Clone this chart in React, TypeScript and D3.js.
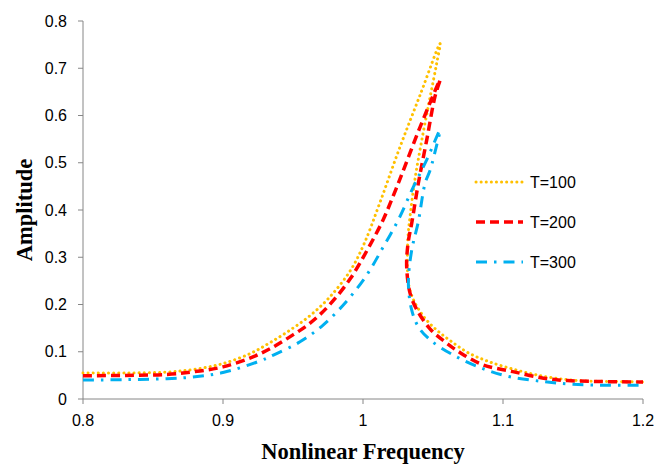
import React from "react";
import * as d3 from "d3";

const xTicks = [0.8, 0.9, 1.0, 1.1, 1.2];
const yTicks = [0, 0.1, 0.2, 0.3, 0.4, 0.5, 0.6, 0.7, 0.8];
const xTickLabels = ["0.8", "0.9", "1", "1.1", "1.2"];
const yTickLabels = ["0", "0.1", "0.2", "0.3", "0.4", "0.5", "0.6", "0.7", "0.8"];

const seriesNames = ["T=100", "T=200", "T=300"];

const freqT100 = [0.8, 0.83, 0.86, 0.88, 0.9, 0.92, 0.934, 0.948, 0.962, 0.976, 0.991, 1.001, 1.012, 1.026, 1.041, 1.055,
  1.0526, 1.048, 1.042, 1.037, 1.0336, 1.0322, 1.0317, 1.0324, 1.036, 1.044, 1.053, 1.063, 1.075, 1.09, 1.11, 1.129, 1.146, 1.16, 1.18, 1.2];
const ampT100 = [0.055, 0.055, 0.057, 0.063, 0.075, 0.097, 0.12, 0.146, 0.176, 0.215, 0.272, 0.33, 0.415, 0.53, 0.645, 0.752,
  0.71, 0.64, 0.548, 0.463, 0.386, 0.345, 0.28, 0.245, 0.21, 0.172, 0.145, 0.122, 0.098, 0.079, 0.061, 0.048, 0.041, 0.038, 0.037, 0.036];

const freqT200 = [0.8, 0.83, 0.86, 0.88, 0.9, 0.9205, 0.934, 0.948, 0.962, 0.976, 0.991, 1.003, 1.0145, 1.0216, 1.027, 1.0407, 1.055,
  1.0514, 1.0455, 1.0395, 1.0348, 1.0322, 1.0312, 1.0336, 1.0383, 1.048, 1.059, 1.07, 1.086, 1.107, 1.129, 1.146, 1.17, 1.2];
const ampT200 = [0.049, 0.05, 0.052, 0.058, 0.068, 0.088, 0.107, 0.132, 0.16, 0.199, 0.255, 0.315, 0.38, 0.43, 0.47, 0.575, 0.675,
  0.64, 0.548, 0.456, 0.372, 0.33, 0.28, 0.224, 0.19, 0.148, 0.12, 0.097, 0.072, 0.058, 0.044, 0.039, 0.037, 0.036];

const freqT300 = [0.8, 0.83, 0.86, 0.88, 0.9, 0.925, 0.936, 0.955, 0.9717, 0.988, 1.0026, 1.0145, 1.0252, 1.036, 1.0455, 1.055,
  1.0526, 1.048, 1.0443, 1.0395, 1.0348, 1.0324, 1.0348, 1.0395, 1.048, 1.0645, 1.085, 1.105, 1.129, 1.15, 1.175, 1.2];
const ampT300 = [0.04, 0.041, 0.043, 0.047, 0.056, 0.079, 0.093, 0.121, 0.157, 0.206, 0.262, 0.322, 0.379, 0.449, 0.506, 0.569,
  0.537, 0.485, 0.456, 0.375, 0.315, 0.245, 0.188, 0.153, 0.125, 0.093, 0.065, 0.047, 0.037, 0.031, 0.029, 0.029];

const W = 656;
const H = 466;

export default function App() {
  const x = d3.scaleLinear().domain([0.8, 1.2]).range([83, 643]);
  const y = d3.scaleLinear().domain([0, 0.8]).range([399, 21]);
  const line = d3
    .line<[number, number]>()
    .x((d) => x(d[0]))
    .y((d) => y(d[1]))
    .curve(d3.curveCatmullRom.alpha(0.5));

  const series = [
    { name: seriesNames[0], f: freqT100, a: ampT100, color: "#FFC000", width: 3, dash: "0.1 5", cap: "round" },
    { name: seriesNames[1], f: freqT200, a: ampT200, color: "#FF0000", width: 3.5, dash: "9 5", cap: "butt" },
    { name: seriesNames[2], f: freqT300, a: ampT300, color: "#00B0F0", width: 3, dash: "11 7 2.5 7", cap: "butt" },
  ];

  const axisColor = "#868686";
  const tickFont = "'Liberation Sans', Arial, sans-serif";
  const titleFont = "'Liberation Serif', 'Times New Roman', serif";
  const legendY = [182, 222, 262];

  return (
    <svg width={W} height={H} style={{ position: "absolute", left: 0, top: 0, background: "#fff" }}>
      <rect x={0} y={0} width={W} height={H} fill="#fff" />
      {/* axes */}
      <line x1={x(0.8)} x2={x(0.8)} y1={y(0.8)} y2={y(0)} stroke={axisColor} strokeWidth={1} />
      <line x1={x(0.8)} x2={x(1.2)} y1={y(0)} y2={y(0)} stroke={axisColor} strokeWidth={1} />
      {yTicks.map((t, i) => (
        <g key={"yt" + i}>
          <line x1={x(0.8) - 5} x2={x(0.8)} y1={y(t)} y2={y(t)} stroke={axisColor} />
          <text x={67} y={y(t) + 5.5} textAnchor="end" fontFamily={tickFont} fontSize={16} fill="#000">
            {yTickLabels[i]}
          </text>
        </g>
      ))}
      {xTicks.map((t, i) => (
        <g key={"xt" + i}>
          <line x1={x(t)} x2={x(t)} y1={y(0)} y2={y(0) + 5} stroke={axisColor} />
          <text x={x(t)} y={426} textAnchor="middle" fontFamily={tickFont} fontSize={16} fill="#000">
            {xTickLabels[i]}
          </text>
        </g>
      ))}
      {/* titles */}
      <text x={363} y={459} textAnchor="middle" fontFamily={titleFont} fontWeight="bold" fontSize={22.5} fill="#000">
        Nonlinear Frequency
      </text>
      <text
        transform={`translate(32, 210) rotate(-90)`}
        textAnchor="middle"
        fontFamily={titleFont}
        fontWeight="bold"
        fontSize={22.5}
        fill="#000"
      >
        Amplitude
      </text>
      {/* series */}
      {series.map((s) => {
        const pts: [number, number][] = s.f.map((f, i) => [f, s.a[i]]);
        return (
          <path
            key={s.name}
            d={line(pts) || ""}
            fill="none"
            stroke={s.color}
            strokeWidth={s.width}
            strokeDasharray={s.dash}
            strokeLinecap={s.cap as any}
          />
        );
      })}
      {/* legend */}
      {series.map((s, i) => (
        <g key={"lg" + i}>
          <line
            x1={476}
            x2={523}
            y1={legendY[i]}
            y2={legendY[i]}
            stroke={s.color}
            strokeWidth={s.width}
            strokeDasharray={s.dash}
            strokeLinecap={s.cap as any}
          />
          <text x={530} y={legendY[i] + 6} fontFamily={tickFont} fontSize={16} fill="#000">
            {s.name}
          </text>
        </g>
      ))}
    </svg>
  );
}
